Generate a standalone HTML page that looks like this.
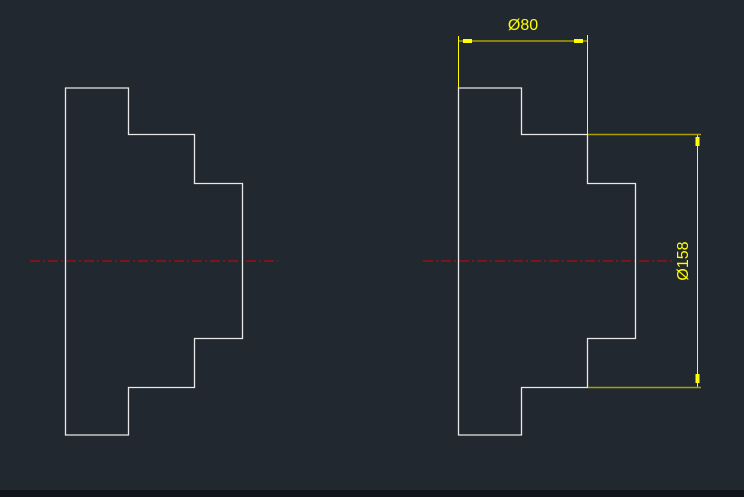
<!DOCTYPE html>
<html><head><meta charset="utf-8"><style>
html,body{margin:0;padding:0;background:#212830;}
svg{display:block}
</style></head><body>
<svg width="744" height="497" viewBox="0 0 744 497" xmlns="http://www.w3.org/2000/svg">
<rect width="744" height="497" fill="#212830"/>
<rect y="490" width="744" height="7" fill="#12161c"/>
<g stroke="#9a0f12" stroke-width="1.5" stroke-dasharray="10,3,2,3" fill="none">
<line x1="30" y1="261" x2="278" y2="261"/>
<line x1="423" y1="261" x2="672" y2="261"/>
</g>
<g fill="none" stroke="#e8e8e8" stroke-width="1.3">
<polygon points="65.5,88 128.5,88 128.5,134.5 194.5,134.5 194.5,183.5 242.5,183.5 242.5,338.5 194.5,338.5 194.5,387.5 128.5,387.5 128.5,435 65.5,435"/>
<polygon points="458.5,88 521.5,88 521.5,134.5 587.5,134.5 587.5,183.5 635.5,183.5 635.5,338.5 587.5,338.5 587.5,387.5 521.5,387.5 521.5,435 458.5,435"/>
</g>
<g stroke="#ffff00" stroke-width="1">
<line x1="458.5" y1="36" x2="458.5" y2="88"/>
<line x1="587.5" y1="35" x2="587.5" y2="134"/>
<line x1="697.5" y1="135" x2="697.5" y2="387"/>
</g>
<g stroke="#a8a000" stroke-width="1.5">
<line x1="459" y1="41" x2="587" y2="41"/>
<line x1="588" y1="134.5" x2="701" y2="134.5"/>
<line x1="588" y1="387.5" x2="701" y2="387.5"/>
</g>
<g fill="#ffff00">
<rect x="463" y="39" width="9" height="4"/>
<rect x="574" y="39" width="9" height="4"/>
<rect x="695.5" y="137" width="4" height="9"/>
<rect x="695.5" y="374" width="4" height="9"/>
</g>
<text x="523" y="30" fill="#ffff00" font-family="Liberation Sans, sans-serif" font-size="16" text-anchor="middle">Ø80</text>
<text x="0" y="0" transform="translate(688,261) rotate(-90)" fill="#ffff00" font-family="Liberation Sans, sans-serif" font-size="16" text-anchor="middle">Ø158</text>
</svg>
</body></html>
